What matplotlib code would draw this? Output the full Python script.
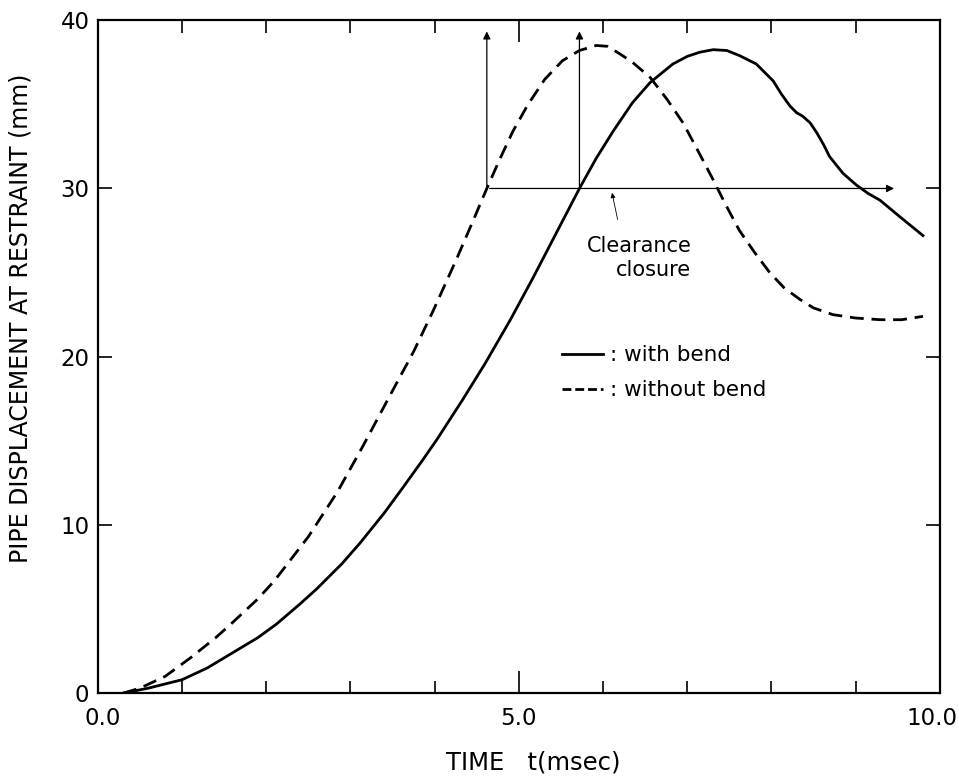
import matplotlib
matplotlib.use('Agg')

import matplotlib.pyplot as plt
import matplotlib.transforms as mtransforms
from matplotlib.lines import Line2D
from matplotlib.ticker import MultipleLocator

# pipe displacement at restraint
t_bend = [0.3, 0.6, 1.0, 1.3, 1.6, 1.9, 2.12, 2.4, 2.6, 2.9, 3.11, 3.4, 3.62, 3.85,
          4.03, 4.34, 4.6, 4.9, 5.17, 5.45, 5.72, 5.92, 6.12, 6.35, 6.56, 6.83, 7.0,
          7.15, 7.31, 7.47, 7.62, 7.82, 8.02, 8.12, 8.22, 8.3, 8.37, 8.46, 8.54, 8.62,
          8.69, 8.77, 8.85, 9.01, 9.15, 9.29, 9.53, 9.8]
d_bend = [0.0, 0.3, 0.8, 1.5, 2.4, 3.3, 4.1, 5.3, 6.2, 7.7, 8.9, 10.7, 12.2, 13.8,
          15.1, 17.5, 19.6, 22.2, 24.7, 27.4, 30.0, 31.8, 33.4, 35.1, 36.3, 37.4, 37.85,
          38.1, 38.25, 38.2, 37.9, 37.4, 36.4, 35.6, 34.9, 34.5, 34.3, 33.9, 33.3, 32.6,
          31.9, 31.4, 30.9, 30.2, 29.7, 29.3, 28.3, 27.2]

t_nobend = [0.3, 0.5, 0.8, 1.1, 1.4, 1.6, 1.9, 2.1, 2.5, 2.85, 3.15, 3.47, 3.75, 3.98,
            4.26, 4.45, 4.62, 4.77, 4.93, 5.11, 5.31, 5.52, 5.72, 5.92, 6.05, 6.2, 6.35,
            6.56, 6.76, 6.95, 7.1, 7.31, 7.45, 7.62, 7.8, 7.98, 8.15, 8.34, 8.5, 8.73,
            9.0, 9.29, 9.55, 9.8]
d_nobend = [0.0, 0.3, 1.0, 2.1, 3.3, 4.2, 5.6, 6.7, 9.3, 12.0, 14.7, 17.7, 20.3, 22.7,
            25.8, 28.0, 30.0, 31.7, 33.4, 35.0, 36.5, 37.6, 38.2, 38.5, 38.45, 38.0, 37.5,
            36.6, 35.3, 33.9, 32.5, 30.5, 29.1, 27.5, 26.2, 25.0, 24.1, 23.4, 22.9, 22.5,
            22.3, 22.2, 22.2, 22.4]

clearance = 30.0
t_contact = [4.62, 5.72]   # clearance closure times (without / with bend)
t_arrow_end = 9.49
arrow_top = 39.5

plt.rcParams['font.family'] = ['DejaVu Sans']

fig = plt.figure(figsize=(9.59, 7.78), dpi=100)
ax = fig.add_axes([0.102, 0.109, 0.878, 0.865])

ax.plot(t_bend, d_bend, color='black', lw=2.0)
ax.plot(t_nobend, d_nobend, color='black', lw=2.0, linestyle=(0, (5, 2.8)))

# clearance closure arrows
arr = dict(arrowstyle='-|>', color='black', lw=0.9, mutation_scale=11)
ax.annotate('', xy=(t_arrow_end, clearance), xytext=(t_contact[0], clearance), arrowprops=arr)
for tc in t_contact:
    ax.annotate('', xy=(tc, arrow_top), xytext=(tc, clearance), arrowprops=arr)
ax.annotate('', xy=(6.1, clearance - 0.1), xytext=(6.18, 28.0),
            arrowprops=dict(arrowstyle='-|>', color='black', lw=0.6, mutation_scale=7))
ax.text(7.05, 27.2, 'Clearance\nclosure', ha='right', va='top', fontsize=15,
        linespacing=1.3)

handles = [Line2D([], [], color='black', lw=2.0),
           Line2D([], [], color='black', lw=2.0, linestyle=(0, (3.2, 1.4)))]
ax.legend(handles, [': with bend', ': without bend'], loc='upper left',
          bbox_to_anchor=(0.551, 0.517), frameon=False, fontsize=15.5,
          handlelength=1.9, handletextpad=0.35, labelspacing=0.7,
          borderaxespad=0, borderpad=0)

ax.set_xlim(0, 10)
ax.set_ylim(0, 40)
ax.set_xticks([0, 5, 10])
ax.set_xticklabels(['0.0', '5.0', '10.0'])
ax.xaxis.set_minor_locator(MultipleLocator(1))
ax.set_yticks([0, 10, 20, 30, 40])
ax.tick_params(axis='both', which='both', direction='in', top=True, right=True,
               labelsize=16.5, width=1.2)
ax.tick_params(axis='x', which='major', length=16, pad=10)
ax.tick_params(axis='x', which='minor', length=9)
ax.tick_params(axis='y', which='major', length=10, pad=6)
for s in ax.spines.values():
    s.set_linewidth(1.6)

# nudge the end labels inwards, as in the original
xl = ax.get_xticklabels()
for lab, dx in ((xl[0], 5), (xl[-1], -8)):
    lab.set_transform(lab.get_transform() +
                      mtransforms.ScaledTranslation(dx / 100, 0, fig.dpi_scale_trans))

ax.set_xlabel('TIME   t(msec)', fontsize=17.5)
ax.xaxis.set_label_coords(0.517, -0.085)
ax.set_ylabel('PIPE DISPLACEMENT AT RESTRAINT (mm)', fontsize=17)
ax.yaxis.set_label_coords(-0.077, 0.557)

plt.savefig('out.png', dpi=100)
